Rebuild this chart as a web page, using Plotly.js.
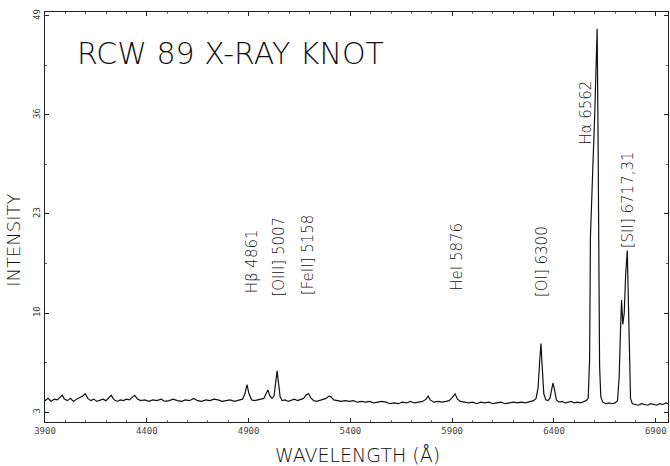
<!DOCTYPE html>
<html>
<head>
<meta charset="utf-8">
<script src="https://cdn.plot.ly/plotly-3.0.1.min.js"></script>
<style>html,body{margin:0;padding:0;background:#fff;}#chart{width:670px;height:466px;}</style>
</head>
<body>
<div id="chart"></div>
<script>
// Wavelength samples (Å)
const wavelength = [
  3900,3915,3930,3945,3960,3975,3985,3995,4010,4025,
  4040,4055,4070,4085,4097,4110,4125,4140,4155,4170,
  4185,4200,4215,4225,4240,4255,4270,4285,4300,4315,
  4330,4340,4355,4370,4390,4410,4430,4450,4470,4490,
  4510,4530,4550,4570,4590,4610,4630,4650,4670,4690,
  4710,4730,4750,4770,4790,4810,4830,4850,4870,4882,
  4892,4902,4915,4930,4945,4960,4975,4987,4995,5005,
  5015,5025,5033,5040,5047,5055,5065,5080,5095,5110,
  5125,5140,5155,5170,5185,5195,5205,5220,5235,5250,
  5265,5280,5295,5305,5318,5335,5355,5375,5395,5415,
  5435,5455,5475,5495,5515,5535,5555,5575,5595,5615,
  5635,5655,5675,5695,5715,5735,5755,5772,5782,5792,
  5810,5830,5850,5870,5885,5900,5914,5926,5940,5960,
  5980,6000,6020,6040,6060,6080,6100,6120,6140,6160,
  6180,6200,6220,6240,6260,6280,6300,6312,6322,6330,
  6336,6342,6350,6360,6370,6380,6388,6395,6402,6412,
  6425,6440,6455,6470,6485,6500,6515,6530,6545,6558,
  6568,6575,6579,6584,6592,6600,6606,6612,6616,6620,
  6624,6630,6640,6655,6670,6685,6700,6712,6720,6727,
  6732,6738,6745,6752,6760,6765,6770,6776,6785,6800,
  6815,6830,6845,6860,6875,6890,6905,6920,6935,6950,
  6960
];
// Intensity at each sample
const intensity = [
  -1.5,-1.2,-1.6,-1.3,-1.4,-1.0,-0.8,-1.3,-1.5,-1.2,
  -1.6,-1.3,-1.1,-0.9,-0.6,-1.2,-1.5,-1.3,-1.6,-1.4,
  -1.3,-1.5,-1.1,-0.8,-1.4,-1.6,-1.4,-1.5,-1.3,-1.4,
  -1.0,-0.8,-1.3,-1.5,-1.4,-1.6,-1.4,-1.5,-1.3,-1.6,
  -1.5,-1.3,-1.5,-1.6,-1.4,-1.5,-1.2,-1.5,-1.6,-1.4,
  -1.5,-1.3,-1.4,-1.6,-1.5,-1.4,-1.6,-1.5,-1.3,-0.6,
   0.6,-0.6,-1.4,-1.5,-1.4,-1.3,-1.2,-0.5,-0.1,-0.9,
  -1.2,-0.9, 0.6, 2.4, 0.8,-1.0,-1.5,-1.4,-1.6,-1.5,
  -1.3,-1.5,-1.4,-1.2,-0.7,-0.6,-1.1,-1.5,-1.6,-1.5,
  -1.4,-1.2,-0.9,-1.0,-1.4,-1.5,-1.6,-1.5,-1.6,-1.5,
  -1.7,-1.6,-1.7,-1.6,-1.8,-1.7,-1.6,-1.7,-1.9,-1.8,
  -1.9,-1.7,-1.8,-1.6,-1.8,-1.7,-1.6,-1.3,-0.9,-1.4,
  -1.7,-1.6,-1.7,-1.6,-1.5,-1.1,-0.6,-1.3,-1.6,-1.7,
  -1.8,-1.7,-1.9,-1.7,-1.8,-1.7,-1.9,-1.8,-1.7,-1.9,
  -1.8,-1.7,-1.8,-1.7,-1.8,-1.6,-1.5,-1.2, 0.2, 3.8,
   6.0, 3.0,-0.6,-1.4,-1.5,-1.2,-0.1, 0.8, 0.0,-1.4,
  -1.7,-1.6,-1.8,-1.7,-1.6,-1.8,-1.7,-1.8,-1.6,-1.5,
  -1.2, 4.0,20.0,25.0,30.0,36.0,42.0,47.3,35.0,15.0,
   3.0,-1.0,-1.7,-1.9,-1.8,-1.9,-1.8,-1.5, 1.5, 8.0,
  11.7, 8.5,10.0,15.0,18.2,12.0, 3.0,-1.2,-1.9,-2.0,
  -2.1,-1.9,-2.0,-2.1,-1.9,-2.0,-2.1,-1.9,-2.0,-1.8,
  -1.9
];

const xTickVals = [3900,4400,4900,5400,5900,6400,6900];
const xTickText = ["3900","4400","4900","5400","5900","6400","6900"];
const yTickVals = [-3,10,23,36,49];
const yTickText = ["3","10","23","36","49"];

const lineLabels = ["Hβ 4861","[OIII] 5007","[FeII] 5158","HeI 5876","[OI] 6300","Hα 6562","[SII] 6717,31"];
const labelX = [4917,5049,5192,5924,6341,6553,6764];
const labelY = [16.8,17.4,17.6,17.4,16.8,36.3,24.8];

const trace = {
  x: wavelength, y: intensity, type: 'scatter', mode: 'lines',
  line: {color: '#111', width: 1.2, shape: 'linear'},
  hoverinfo: 'skip', showlegend: false
};

const thinFont = {family: 'DejaVu Sans', color: '#111', weight: 200};

const annotations = lineLabels.map((t, i) => ({
  x: labelX[i], y: labelY[i], xref: 'x', yref: 'y', text: t, showarrow: false,
  textangle: -90, xanchor: 'center', yanchor: 'middle',
  font: Object.assign({}, thinFont, {size: 15})
}));

annotations.push({
  x: 0.048, y: 0.898, xref: 'paper', yref: 'paper', text: 'RCW 89 X-RAY KNOT',
  showarrow: false, xanchor: 'left', yanchor: 'middle',
  font: Object.assign({}, thinFont, {size: 30})
});
annotations.push({
  x: 0.502, y: -0.08, xref: 'paper', yref: 'paper', text: 'WAVELENGTH (Å)',
  showarrow: false, xanchor: 'center', yanchor: 'middle',
  font: Object.assign({}, thinFont, {size: 19})
});
annotations.push({
  x: -0.05, y: 0.444, xref: 'paper', yref: 'paper', text: 'INTENSITY',
  showarrow: false, xanchor: 'center', yanchor: 'middle', textangle: -90,
  font: Object.assign({}, thinFont, {size: 18})
});

const tickFont = {family: 'DejaVu Sans Mono', size: 9, color: '#444'};

const layout = {
  width: 670, height: 466,
  margin: {l: 45, r: 2, t: 12, b: 44, pad: 0},
  paper_bgcolor: '#fff', plot_bgcolor: '#fff',
  xaxis: {
    range: [3900, 6960], showgrid: false, zeroline: false,
    showline: true, linecolor: '#222', linewidth: 1, mirror: 'allticks',
    ticks: 'inside', ticklen: 4, tickcolor: '#222',
    tickvals: xTickVals, ticktext: xTickText, tickfont: tickFont,
    minor: {ticks: 'inside', ticklen: 2, dtick: 100, tickcolor: '#666'}
  },
  yaxis: {
    range: [-4.3, 49.5], showgrid: false, zeroline: false,
    showline: true, linecolor: '#222', linewidth: 1, mirror: 'allticks',
    ticks: 'inside', ticklen: 4, tickcolor: '#222',
    tickvals: yTickVals, ticktext: yTickText, tickfont: tickFont, tickangle: -90,
    minor: {ticks: 'inside', ticklen: 2, dtick: 6.5, tick0: -3, tickcolor: '#666'}
  },
  annotations: annotations
};

Plotly.newPlot('chart', [trace], layout, {staticPlot: true, displayModeBar: false});
</script>
</body>
</html>
